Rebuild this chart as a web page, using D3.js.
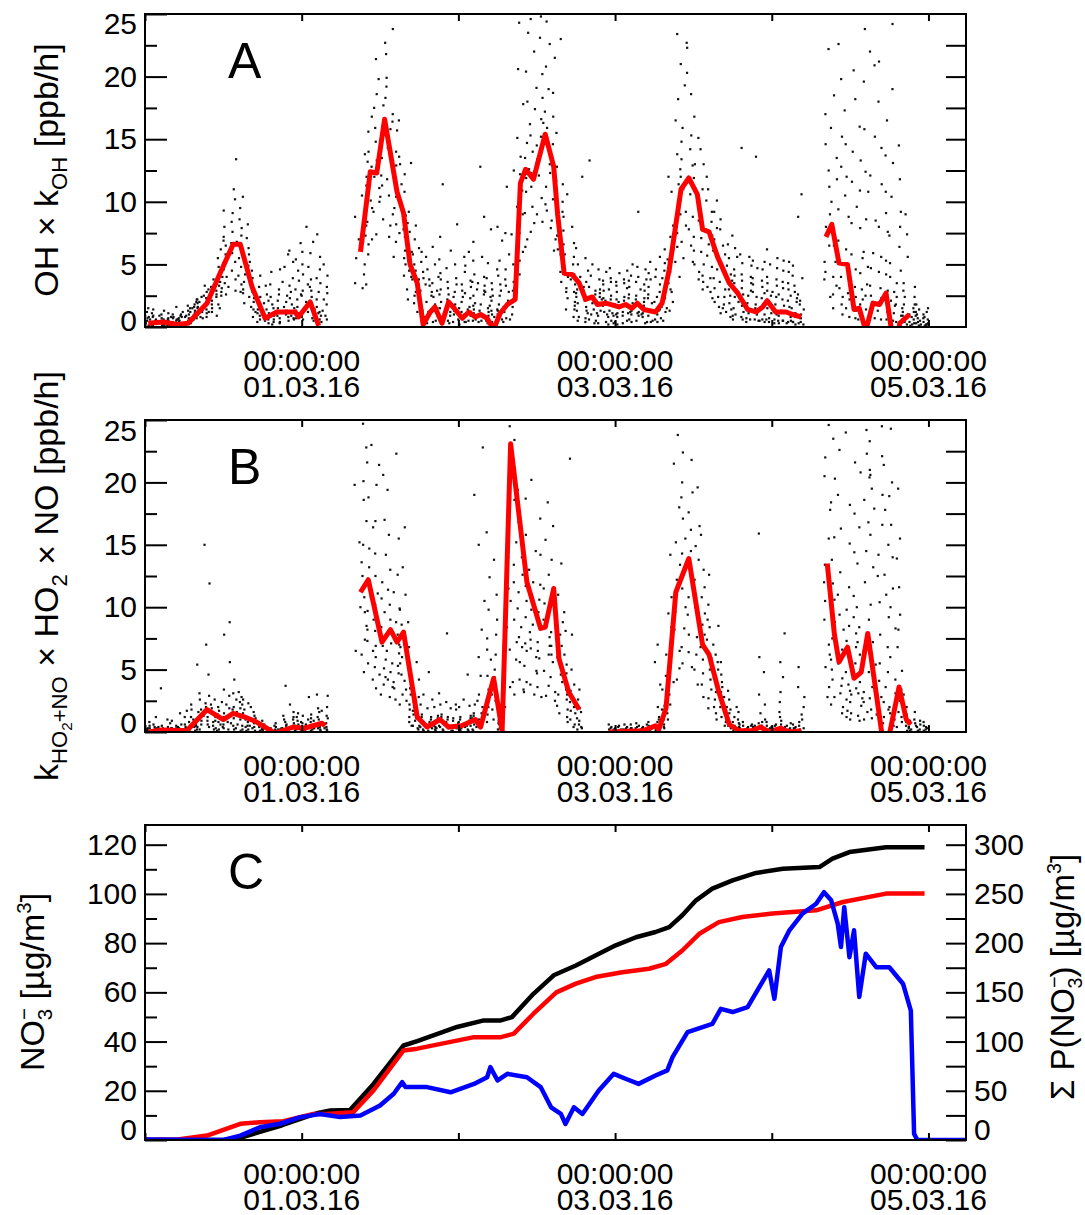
<!DOCTYPE html>
<html lang="en">

<head>
    <meta charset="UTF-8">
    <title>OH x kOH, kHO2+NO x HO2 x NO and nitrate</title>
    <script src="https://d3js.org/d3.v7.min.js"></script>
    <style>
        body,
        html {
            margin: 0;
            padding: 0;
            background: #fff;
        }

        svg {
            display: block;
        }

        text {
            font-family: "Liberation Sans", Arial, Helvetica, sans-serif;
            fill: #000;
        }
    </style>
</head>

<body>
    <script>
        // all times are hours since 29.02.16 00:00 (UTC)
        const t0 = Date.UTC(2016, 1, 29);
        const toDate = h => new Date(t0 + h * 3600e3);

        const dayTicks = [0, 24, 48, 72, 96, 120];
        const labelHours = [24, 72, 120];
        const rateTicks = [0, 5, 10, 15, 20, 25];
        const rateMinor = [2.5, 7.5, 12.5, 17.5, 22.5];
        const rateRight = [2.5, 5, 7.5, 10, 12.5, 15, 17.5, 20, 22.5];
        const no3Ticks = [0, 20, 40, 60, 80, 100, 120];
        const no3Minor = [10, 30, 50, 70, 90, 110];
        const sumTicks = [0, 25, 50, 75, 100, 125, 150, 175, 200, 225, 250, 275, 300];
        const sumLabels = [0, 50, 100, 150, 200, 250, 300];

        // panel A: hourly OH x kOH line (ppb/h), null = gap
        const ohHours = [0.5, 2.8, 4.9, 6.6, 9.5, 11.5, 13.5, 14.6, 16.4, 18.4, 20.2, 23, 23.5, 25.3, 26.6, 28,
            33, 34.5, 35.5, 36.7, 38.6, 39.6, 40.6, 41.7, 42.6, 43.7, 44.4, 45.5, 46.5, 47.5, 48.6, 49.6, 50.6, 51.4,
            52.4, 53.4, 54.4, 55.5, 56.7, 57.5, 58.3, 59.5, 61.3, 62.6, 63.2, 64.2, 65.4, 66.5, 67.5, 68.5, 69.3,
            70.6, 72.6, 73.6, 74.6, 75.4, 76.4, 78.2, 79.2, 80.3, 82.1, 83.3, 84.6, 85.4, 86.4, 87.7, 89.5, 90.8,
            92.3, 93.6, 94.6, 95.3, 96.6, 98.2, 99.2, 100.5, 102,
            104.3, 105.2, 106.3, 107.6, 108.6, 109.4, 110.4, 111.5, 112.5, 113.5, 114.5, 115.3, 115.6, 117.1];
        const ohRate = [0.3, 0.4, 0.2, 0.3, 1.9, 4.3, 6.6, 6.6, 3.2, 0.7, 1.2, 1.2, 0.8, 2.0, 0.1, null,
            6.0, 12.4, 12.3, 16.6, 10.8, 9.1, 5.0, 3.5, 0.2, 1.2, 1.6, 0.3, 2.0, 1.4, 0.7, 1.2, 0.8, 1.0,
            0.7, -0.2, 1.1, 1.8, 2.2, 11.5, 12.6, 11.8, 15.4, 12.8, 9.0, 4.3, 4.2, 3.5, 2.2, 2.4, 1.8,
            1.9, 1.6, 1.8, 1.5, 1.9, 1.4, 1.2, 1.9, 4.6, 11.0, 11.9, 10.6, 7.8, 7.6, 5.6, 3.5, 2.7,
            1.4, 1.2, 1.6, 2.1, 1.2, 1.2, 1.0, 0.8, null,
            7.2, 8.2, 5.1, 5.0, 1.4, 1.5, -0.3, 1.9, 1.8, 2.7, -0.8, -0.8, 0.3, 1.0];

        // panel A: single measurements, one string per hour (ppb/h)
        const ohPoints = [
            "0.3 0.8 0.1 1.2 0.5 0.2 0.9 0.4 1.5 0.6 0.1 0.7",
            "0.5 0.2 1.1 0.3 0.8 0.1 0.6 1.4 0.4 0.2 0.9 0.3",
            "0.2 0.6 0.1 0.9 0.3 1.3 0.5 0.1 0.7 0.4 0.2 1.0",
            "0.4 0.1 0.8 0.2 0.6 0.3 1.1 0.1 0.5 0.2 0.7 0.3",
            "0.3 0.7 0.1 0.5 1.0 0.2 0.4 0.8 0.1 0.6 0.3 1.6",
            "0.6 0.2 0.9 0.4 1.2 0.1 0.7 0.3 1.0 0.5 0.2 0.8",
            "0.8 1.3 0.4 1.0 0.6 1.7 0.3 1.2 0.7 0.5 1.5 0.9",
            "1.0 1.6 0.6 1.3 2.0 0.9 1.5 0.7 1.8 1.1 0.5 2.2",
            "1.2 2.0 0.8 1.6 2.4 1.0 1.9 1.4 0.7 2.2 1.5 1.1",
            "1.6 2.5 1.1 2.0 3.0 1.4 2.3 0.8 2.8 1.8 1.2 3.3",
            "2.1 3.0 1.5 2.6 3.5 1.8 2.9 1.2 3.8 2.4 0.9 3.2",
            "2.8 4.5 1.8 3.6 5.5 2.5 4.0 6.2 3.1 1.5 4.8 3.3",
            "4.0 6.5 3.2 8.0 5.1 2.6 7.2 4.6 9.3 3.5 5.8 6.9",
            "5.2 8.4 3.8 6.7 10.2 4.5 7.6 11.0 5.9 2.9 9.1 13.4",
            "4.8 7.9 3.4 6.2 9.5 5.5 8.6 2.8 6.8 10.4 4.1 7.3",
            "3.6 5.8 2.4 4.9 7.1 3.0 6.3 1.9 4.2 8.2 2.7 5.1",
            "2.0 3.6 1.2 2.8 4.5 1.6 3.1 0.8 2.3 5.2 1.4 3.9",
            "1.1 2.4 0.6 1.8 3.2 0.9 2.0 4.1 1.4 0.4",
            "0.8 1.9 0.3 1.4 2.6 0.6 3.3 1.1 0.5 2.1",
            "0.6 1.5 0.2 2.4 1.0 3.4 0.4 1.8 0.9 4.4",
            "0.9 2.1 0.4 1.5 3.0 0.7 4.6 1.2 2.6 0.3",
            "1.0 2.5 0.5 3.6 1.6 0.8 4.8 2.0 1.3 5.8",
            "1.2 2.8 0.6 3.9 1.8 5.2 0.9 2.3 1.5 3.3 6.1 0.7",
            "1.3 3.0 0.7 2.2 4.5 1.6 6.7 0.9 2.6 3.7 1.1 5.4",
            "1.5 2.9 0.8 4.2 2.0 6.0 1.2 8.0 2.5 3.4 0.6 5.0",
            "1.4 3.2 0.7 2.4 4.8 1.8 5.9 1.0 2.9 3.8 0.5 6.8",
            "1.2 3.5 0.6 2.2 4.6 1.6 7.4 0.9 2.8 3.9 1.1 5.6",
            "0.9 2.7 0.4 1.8 4.1 1.3 3.2 0.6 2.2 5.0",
            "", "", "", "",
            "5.5 8.8 3.5 7.0",
            "6.2 9.8 3.4 8.1 12.0 5.0 7.3 10.5 4.2 13.8 6.8 3.1 9.0 11.3",
            "9.5 13.2 7.0 15.6 11.4 5.8 12.8 8.4 16.8 10.1 6.6 14.0",
            "12.0 17.5 9.2 14.8 21.4 11.1 15.9 7.4 18.6 13.3 10.0 19.8",
            "13.5 19.2 10.4 16.0 22.7 12.1 17.7 8.6 21.8 14.9 11.3 18.3",
            "11.8 17.0 9.0 14.3 23.8 10.5 15.8 7.2 19.9 12.7 8.1 16.4",
            "9.5 14.0 6.8 11.7 15.7 8.2 12.9 5.6 10.4 13.6 7.5 16.5",
            "7.2 10.8 5.0 8.9 12.2 6.1 9.6 4.1 11.4 7.8 5.5 13.0",
            "4.5 7.6 3.0 6.0 13.1 3.8 8.3 2.2 5.3 9.2 4.0 6.6",
            "3.2 5.8 1.9 4.5 7.0 2.5 6.3 1.2 3.8 8.1 2.8 5.0",
            "1.8 3.9 0.8 2.9 5.2 1.3 4.4 0.5 2.3 6.0 1.5 3.4",
            "1.4 3.3 0.6 2.5 4.6 1.0 3.8 0.3 2.0 5.6 1.2 2.8",
            "1.3 3.5 0.5 2.4 5.0 0.9 4.0 1.8 6.4 2.9 0.4 1.5",
            "1.5 3.8 0.6 2.6 5.4 1.1 4.3 2.0 7.2 3.0 0.8 11.4",
            "1.2 3.1 0.5 2.2 4.7 0.9 3.6 1.7 6.1 2.6 0.3 1.4",
            "1.3 3.4 0.6 2.4 5.0 1.0 3.9 1.8 8.2 2.8 0.4 1.6",
            "1.0 2.9 0.4 2.0 4.4 0.8 3.4 1.5 5.6 2.4 0.2 1.2",
            "1.2 3.2 0.5 2.3 4.9 0.9 3.7 1.6 6.0 2.7 0.4 1.4",
            "1.4 3.6 0.6 2.5 5.3 1.1 4.2 1.9 6.8 3.0 0.5 1.7",
            "1.3 3.5 0.5 2.6 5.6 1.0 4.0 1.8 8.8 12.8 0.4 2.9",
            "1.2 3.3 0.5 2.4 5.1 0.9 3.9 1.7 7.8 2.8 0.3 1.5",
            "1.0 3.0 0.4 2.1 4.6 0.8 3.5 1.4 8.0 2.5 0.2 1.3",
            "1.3 3.4 0.6 2.5 5.3 1.0 4.1 1.8 6.9 2.9 0.4 1.6",
            "1.5 3.8 0.7 2.8 11.2 1.2 4.6 2.1 7.5 3.3 0.6 5.8",
            "2.2 5.0 1.0 3.6 7.4 1.6 6.2 2.9 12.5 4.3 9.6 3.1",
            "7.5 13.6 4.2 10.9 17.8 6.0 12.2 20.6 9.0 15.1 5.3 24.3",
            "10.8 16.2 7.0 13.5 20.4 9.1 14.7 23.5 11.9 18.0 6.4 12.6",
            "11.2 17.4 7.6 14.0 22.0 9.6 15.3 24.6 12.3 19.1 8.3 13.1",
            "12.1 18.3 8.4 15.2 23.1 10.3 16.6 24.8 13.4 20.2 9.0 14.5",
            "13.0 19.0 9.3 15.9 22.6 11.2 17.2 24.4 14.3 20.8 9.8 16.3",
            "10.2 16.8 7.0 13.4 21.5 8.5 14.6 6.1 11.7 18.7 7.9 12.3",
            "7.3 12.8 4.4 10.0 23.0 5.8 11.4 3.6 8.7 15.5 6.2 9.2",
            "4.0 7.7 2.3 5.8 10.6 3.1 6.6 1.4 4.9 8.8 2.8 5.2",
            "2.8 5.6 1.4 4.2 8.0 2.0 5.0 0.8 3.4 6.7 1.7 3.8",
            "1.9 4.0 0.8 3.0 6.3 1.3 3.6 12.0 2.4 5.0 0.5 2.7",
            "1.6 3.6 0.7 2.6 5.5 1.1 3.2 0.4 2.1 4.5 1.3 2.9",
            "1.4 3.2 0.6 2.4 5.0 1.0 2.9 13.3 1.9 4.1 0.3 2.6",
            "1.3 3.0 0.5 2.2 4.6 0.9 2.7 0.3 1.8 3.8 1.1 2.4",
            "1.2 2.9 0.4 2.1 4.4 0.8 3.4 0.2 1.7 3.7 1.0 2.3",
            "1.3 3.0 0.5 2.2 4.7 0.9 3.6 0.3 1.8 3.9 1.1 2.5",
            "1.1 2.8 0.4 2.0 4.3 0.8 3.3 0.2 1.6 3.6 1.0 2.2",
            "1.2 3.1 0.5 2.1 4.5 0.9 3.5 0.3 1.7 3.8 1.1 2.4",
            "1.3 3.2 0.6 2.3 5.0 1.0 3.7 0.4 1.9 4.1 1.2 2.6",
            "1.2 3.0 0.5 2.2 4.8 0.9 3.6 9.2 1.8 4.0 1.1 2.5",
            "1.1 2.9 0.4 2.0 4.6 0.8 3.4 0.3 1.7 3.8 1.0 2.3",
            "1.3 3.2 0.5 2.3 5.2 0.9 3.8 0.4 1.9 4.3 1.2 2.6",
            "1.4 3.4 0.6 2.4 5.6 1.0 4.0 0.4 2.0 4.6 1.3 2.8",
            "1.6 3.9 0.7 2.8 6.2 1.2 4.5 0.5 2.3 5.1 1.5 3.2",
            "3.5 7.2 2.0 5.4 10.8 2.8 8.1 1.3 4.4 12.0 3.0 6.2",
            "7.5 12.6 5.2 10.1 16.5 6.4 13.8 4.0 9.0 18.2 23.4 11.4",
            "9.2 14.8 6.8 12.0 19.3 8.1 15.9 5.5 11.0 21.0 22.7 13.4",
            "8.8 14.2 6.5 11.5 18.6 7.8 15.3 5.2 10.6 20.3 22.3 12.9",
            "7.2 11.9 5.0 9.6 15.1 6.1 13.0 3.8 8.5 16.8 4.4 10.4",
            "6.0 10.1 4.1 8.2 13.0 5.0 11.0 3.0 7.1 14.2 3.6 9.0",
            "4.8 8.4 3.2 6.6 11.0 3.9 9.2 2.3 5.7 12.0 2.8 7.3",
            "3.9 7.0 2.4 5.5 9.2 3.1 7.9 1.6 4.6 10.1 2.0 6.1",
            "3.0 5.8 1.8 4.4 7.8 2.4 6.5 1.1 3.6 8.6 1.5 5.0",
            "2.5 4.9 1.4 3.7 6.6 1.9 5.5 0.8 3.0 7.3 1.2 4.2",
            "2.0 4.1 1.0 3.0 5.6 1.5 4.6 0.6 2.4 6.3 0.9 3.5",
            "1.7 3.7 0.8 2.6 5.1 1.2 4.2 14.3 2.0 5.8 0.6 3.1",
            "1.6 3.5 0.7 2.5 4.9 1.1 4.0 0.4 1.9 5.6 0.6 2.9",
            "1.5 3.4 0.6 2.4 4.7 1.0 3.9 13.6 1.8 5.3 0.5 2.8",
            "1.4 3.2 0.6 2.3 4.6 1.0 3.7 0.4 1.8 5.2 0.5 2.7",
            "1.5 3.5 0.7 2.5 5.0 1.1 4.0 0.4 1.9 6.2 0.6 2.9",
            "1.4 3.3 0.6 2.4 4.7 1.0 3.8 0.3 1.8 5.5 0.5 2.8",
            "1.3 3.1 0.5 2.2 4.5 0.9 3.6 0.3 1.7 5.3 0.5 2.6",
            "1.2 3.0 0.5 2.1 4.4 0.8 3.5 0.3 1.6 5.2 0.4 2.5",
            "1.1 2.8 0.4 2.0 4.1 0.8 3.3 0.2 1.5 4.9 0.4 2.3",
            "1.0 2.6 0.3 1.8 3.9 0.7 8.8 0.2 1.4 10.6 0.4 2.1",
            "", "", "",
            "6.5 11.2 3.8 9.0 14.6 5.2 12.5 2.4 8.0 17.0 4.4 22.2",
            "5.2 10.0 2.6 7.8 13.5 4.0 15.9 1.5 6.5 18.5 3.3 11.8",
            "4.0 9.4 1.8 6.9 12.8 3.1 15.2 1.0 5.5 19.8 2.4 22.6",
            "3.6 8.8 1.5 6.2 12.0 2.7 14.6 0.8 5.0 17.3 2.2 10.5",
            "3.2 8.3 1.3 5.8 11.6 2.4 14.0 0.7 4.6 18.2 2.0 20.5",
            "3.0 7.9 1.2 5.5 10.9 2.2 13.3 0.6 4.3 16.0 1.8 9.6",
            "3.4 8.6 1.4 6.0 12.4 2.5 15.8 0.7 4.8 19.6 23.8 10.8",
            "3.3 8.5 1.4 5.9 12.1 2.5 15.2 0.7 4.7 20.9 2.0 22.0",
            "3.1 8.0 1.3 5.6 11.4 2.3 14.3 0.6 4.4 18.0 1.9 21.2",
            "2.9 7.6 1.2 5.3 10.8 2.2 13.7 0.6 4.2 16.5 1.8 9.1",
            "2.8 7.3 1.1 5.1 10.4 2.1 13.1 0.5 4.0 24.2 1.7 19.0",
            "2.4 6.4 0.9 4.5 9.2 1.8 11.8 0.4 3.5 14.5 1.5 8.0",
            "1.2 3.5 0.4 2.4 5.6 0.9 7.4 0.2 1.8 9.0 0.6 2.9",
            "0.6 1.5 0.2 1.0 2.4 0.4 1.8 0.1 0.8 3.2 0.3 1.2",
            "0.4 1.0 0.1 0.7 1.4 0.3 1.2 0.1 0.5 1.8 0.2 0.9",
            "0.3 0.8 0.1 0.6 1.2 0.2 1.0 0.1 0.4 1.5 0.2 0.7"
        ];

        // panel B: hourly kHO2+NO x HO2 x NO line (ppb/h)
        const ho2Hours = [0.5, 2.6, 6.4, 9.5, 12, 13.5, 15.3, 17.1, 19.9, 22.7, 24.4, 27.1, 27.6, 29,
            33, 34.2, 36.3, 37.6, 38.6, 39.6, 41.7, 43.2, 45.2, 46.5, 48.5, 50.6, 51.4, 53.4, 54.7, 56.0, 58.5,
            60.6, 61.3, 62.6, 63.4, 64.9, 66.5, 68,
            71.1, 76.2, 78.2, 78.7, 79.8, 81.3, 83.3, 85.4, 86.4, 87.9, 89.5, 91, 92.9, 94.3, 95.6, 97.4, 98.6,
            100.5, 102,
            104.5, 105.6, 106.3, 107.6, 108.6, 109.7, 110.7, 113.1, 113.7, 115.5, 116.6, 117.3];
        const ho2Rate = [0, 0.16, 0.1, 1.8, 1.0, 1.5, 1.2, 0.8, -0.1, 0.4, 0.3, 0.7, 0.5, null,
            11.2, 12.2, 7.2, 8.2, 7.2, 8.0, 1.2, 0.4, 1.0, 0.4, 0.5, 1.0, 0.4, 4.3, 0.1, 23.1, 12.0,
            8.3, 8.4, 11.5, 5.9, 3.2, 1.8, null,
            0, 0.1, 0.5, 0.2, 1.9, 11.2, 13.9, 7.0, 6.2, 3.2, 0.6, 0.1, 0.1, 0.4, 0, 0.3, 0,
            0.1, null,
            13.5, 7.8, 5.6, 6.8, 4.3, 4.8, 7.9, -1, -1, 3.6, 1.0, 0.6];

        // panel B: single measurements, one string per hour (ppb/h)
        const ho2Points = [
            "0.1 0.3 0.0 0.5 0.2 0.1 0.8 0.3 0.0 0.2",
            "0.2 0.1 0.4 0.0 1.2 0.2 0.1 0.6 0.3 0.0",
            "0.1 0.3 0.0 0.2 3.5 0.1 0.5 0.2 0.0 0.4",
            "0.2 0.0 0.4 0.1 0.7 0.3 0.0 0.2 1.0 0.1",
            "0.1 0.3 0.0 0.5 0.2 0.1 0.9 0.0 0.3 0.2",
            "0.2 0.0 0.3 0.1 0.6 0.2 0.4 0.0 1.5 0.1",
            "0.3 0.8 0.1 0.5 1.2 0.2 0.6 0.0 1.7 0.4",
            "0.5 1.2 0.2 0.8 1.8 0.4 1.0 0.1 2.2 0.6",
            "0.9 1.8 0.4 1.3 2.6 0.6 5.4 0.2 1.6 3.1",
            "1.2 2.3 0.6 1.7 15.0 0.9 11.9 7.0 2.9 4.6 0.4 2.0",
            "0.8 1.6 0.3 1.2 2.2 0.5 1.9 0.2 0.9 2.6",
            "0.6 1.4 0.2 1.0 2.0 0.4 1.7 0.1 0.8 2.4",
            "0.8 2.2 0.3 1.5 2.9 0.6 8.8 0.2 1.2 7.8 1.9 3.4",
            "0.7 2.0 0.3 1.4 3.1 0.5 5.6 0.2 1.1 4.2 1.8 2.6",
            "0.6 1.9 0.2 1.3 2.8 0.5 2.4 0.1 1.0 3.2 1.6 2.2",
            "0.5 1.5 0.2 1.0 2.3 0.4 1.8 0.1 0.8 2.6",
            "0.4 1.1 0.1 0.7 1.6 0.3 1.3 0.0 0.5 2.0",
            "0.2 0.6 0.0 0.4 0.9 0.1 0.3 0.0",
            "0.1 0.4 0.0 0.3 0.6 0.1 0.2 0.0",
            "0.1 0.3 0.0 0.2 0.5 0.1 0.2 0.0",
            "0.2 0.4 0.0 0.3 0.7 0.1 0.2 0.0",
            "0.3 0.8 0.1 0.5 1.3 0.2 1.0 0.0 3.7 0.6",
            "0.4 1.0 0.1 0.7 1.6 0.3 2.2 0.0 1.2 0.5",
            "0.3 0.8 0.1 0.5 1.2 0.2 0.9 0.0 0.6 1.5",
            "0.2 0.6 0.0 0.4 1.0 0.1 0.7 0.0 0.5 1.3",
            "0.3 0.8 0.1 0.5 1.4 0.2 0.9 0.0 2.8 1.1",
            "0.4 1.0 0.1 0.7 1.6 0.3 1.2 0.0 3.0 0.6 1.9 0.2",
            "0.4 1.1 0.1 0.7 1.7 0.3 1.3 0.0 2.9 0.6 2.0 0.2",
            "", "", "", "",
            "10.0 15.2 6.5 19.8",
            "12.5 18.6 7.4 15.0 22.8 9.6 4.8 16.9 24.7 10.8 6.2 13.6 8.5 20.1",
            "10.8 16.4 6.5 13.2 21.6 8.2 4.2 14.7 23.0 9.7 5.5 11.9 7.3 18.8",
            "9.0 14.3 5.2 11.1 19.8 6.9 3.5 12.5 21.4 8.1 4.6 10.2 6.0 16.9",
            "7.5 12.0 4.4 9.6 17.0 5.8 3.0 10.7 20.6 6.9 3.8 8.4 5.1 14.2",
            "7.1 11.4 4.2 9.0 15.8 5.5 2.8 10.2 19.4 6.5 3.6 8.0 4.8 13.0",
            "7.0 11.2 4.0 8.8 15.5 5.3 2.6 9.9 22.3 6.3 3.5 7.8 4.7 12.6",
            "6.0 9.8 3.4 7.6 13.2 4.6 2.2 8.6 16.4 5.5 3.0 6.8 4.1 11.0",
            "2.5 4.6 1.2 3.5 6.8 1.8 0.8 4.0 8.8 2.2 0.5 3.0",
            "1.4 2.8 0.5 2.0 4.2 0.9 0.3 2.4 5.6 1.1 0.2 1.7",
            "0.6 1.4 0.2 1.0 2.2 0.4 0.1 1.2 3.0 0.5",
            "0.5 1.2 0.1 0.8 1.9 0.3 0.0 1.0 4.8 0.4",
            "0.5 1.3 0.2 0.9 2.0 0.3 0.1 1.1 2.6 0.4",
            "0.6 1.4 0.2 1.0 2.2 0.4 0.1 1.2 3.1 0.5",
            "0.5 1.2 0.1 0.8 1.9 0.3 7.9 1.0 2.4 0.4",
            "0.4 1.1 0.1 0.7 1.8 0.3 0.0 0.9 2.2 0.4",
            "0.5 1.2 0.2 0.8 2.0 0.3 0.1 1.0 2.6 0.4",
            "0.5 1.3 0.2 0.9 2.1 0.4 0.1 1.1 4.6 0.5",
            "0.6 1.5 0.2 1.1 2.5 0.4 0.1 1.3 19.0 0.6 2.2",
            "1.0 3.0 0.4 2.0 6.0 0.7 10.5 4.5 22.8 1.5 15.0 8.2",
            "2.0 4.5 0.8 3.4 7.5 1.4 12.4 5.8 16.0 2.6 9.8 6.6",
            "2.5 5.0 1.0 3.8 7.8 1.8 11.0 6.2 13.8 3.0 9.0 4.4",
            "0.3 0.9 0.1 0.6 1.5 0.2 0.0 0.7",
            "5.0 11.5 2.0 8.4 17.8 3.6 24.5 14.0 6.6 20.5",
            "7.2 13.4 4.0 10.5 18.6 5.8 23.4 15.2 9.0 21.0 3.0 12.0",
            "6.8 12.6 4.2 9.9 16.8 5.6 19.4 14.0 8.4 7.6 11.2 3.4",
            "6.5 11.7 4.0 9.2 15.8 5.3 18.7 13.0 8.0 7.1 10.5 3.2",
            "6.0 10.8 3.8 8.6 14.5 4.9 20.2 12.0 7.4 6.7 9.8 3.0",
            "5.9 10.6 3.6 8.4 14.2 4.7 17.1 11.8 7.2 6.5 9.6 2.8",
            "6.2 11.5 3.7 9.0 15.4 4.9 18.4 12.6 7.6 6.9 10.3 2.9",
            "5.6 10.2 3.2 8.0 13.8 4.4 16.5 11.2 6.9 6.2 9.2 2.5",
            "4.0 7.8 2.1 6.0 11.0 3.0 13.5 8.8 5.1 4.6 6.9 1.5",
            "2.6 5.4 1.2 4.0 8.1 1.8 9.6 6.2 3.4 3.0 4.7 0.8",
            "1.5 3.3 0.6 2.4 5.0 1.0 21.9 3.8 2.0 1.7 7.8 0.4",
            "0.6 1.6 0.2 1.1 2.6 0.4 3.4 1.9 0.9 0.3",
            "", "", "", "",
            "0.2 0.4 0.0 0.3 0.6 0.1 0.2 0.0",
            "0.1 0.3 0.0 0.2 0.5 0.1 0.4 0.0",
            "0.2 0.4 0.0 0.3 0.6 0.1 0.2 0.0",
            "0.1 0.3 0.0 0.2 0.6 0.1 0.3 0.0",
            "0.2 0.5 0.0 0.3 0.7 0.1 0.4 0.0",
            "0.2 0.4 0.0 0.3 0.6 0.1 0.3 0.0",
            "0.2 0.5 0.1 0.3 0.8 0.1 0.4 0.0",
            "0.4 1.2 0.1 0.8 2.0 0.3 5.6 1.0 7.0 0.5 3.8 0.2",
            "0.8 2.1 0.3 1.5 3.4 0.6 6.2 1.8 4.5 1.0 2.6 0.4",
            "3.0 7.0 1.5 5.2 10.8 2.2 14.2 8.4 4.0 6.1 1.0 9.5",
            "8.2 13.4 5.1 11.0 18.0 6.5 21.5 15.2 9.6 12.2 4.2 23.8",
            "10.0 15.5 6.8 13.0 20.0 8.3 22.4 17.1 11.5 14.3 5.5 18.8",
            "9.4 14.5 6.4 12.1 19.2 7.8 21.8 16.2 10.8 13.4 5.2 17.6",
            "7.6 12.2 5.0 10.0 16.5 6.2 19.6 13.8 8.8 11.1 3.8 14.9",
            "5.8 9.5 3.8 7.8 13.0 4.7 15.8 10.8 6.8 8.6 2.8 11.6",
            "4.2 7.4 2.7 5.9 10.2 3.4 12.6 8.4 5.0 6.6 1.9 9.0",
            "2.6 5.0 1.5 3.8 7.0 2.0 8.5 5.6 3.2 4.3 1.0 6.2",
            "1.6 3.2 0.8 2.4 4.6 1.2 5.6 3.6 2.0 2.8 0.5 4.0",
            "0.8 1.8 0.3 1.3 2.6 0.5 3.3 2.0 1.0 1.5",
            "0.4 1.0 0.1 0.7 1.6 0.3 2.0 1.2 0.5 0.8",
            "0.2 0.5 0.0 0.3 0.8 0.1 0.6 0.0",
            "0.1 0.4 0.0 0.3 0.6 0.1 0.5 0.0",
            "0.2 0.5 0.0 0.3 0.7 0.1 0.4 0.0",
            "0.3 1.5 0.1 3.0 0.8 15.9 2.2 0.0 4.8 0.5 1.0 6.0",
            "0.2 0.5 0.0 0.3 0.8 0.1 0.4 0.0",
            "0.1 0.4 0.0 0.3 0.6 0.1 0.5 0.0",
            "0.3 1.6 0.1 3.2 0.9 7.9 2.4 0.0 5.6 0.6 1.2 4.4",
            "0.2 0.5 0.0 0.3 0.7 0.1 0.4 0.0",
            "0.1 0.4 0.0 0.3 0.6 0.1 0.3 0.0",
            "0.3 1.4 0.1 2.8 0.8 5.2 2.0 0.0 3.6 0.5 1.0 0.2",
            "", "", "",
            "9.0 15.5 5.2 12.0 20.5 7.0 3.6 17.8 24.6 10.5 6.2 13.4 2.8 22.0",
            "7.5 13.8 4.2 10.6 18.4 5.8 2.8 15.6 23.5 8.8 5.0 11.9 2.2 20.3",
            "5.5 11.0 3.1 8.2 16.3 4.3 2.0 12.8 22.6 6.6 3.7 9.4 1.5 19.0",
            "4.8 9.8 2.6 7.3 15.1 3.8 1.7 11.6 24.0 5.9 3.3 8.5 1.2 18.2",
            "4.5 9.2 2.4 6.8 14.4 3.5 1.5 10.9 21.6 5.5 3.0 7.9 1.0 17.5",
            "4.0 8.4 2.1 6.2 13.5 3.1 1.3 10.0 20.8 5.0 2.7 7.2 0.9 16.4",
            "6.5 16.8 3.2 12.0 20.4 4.8 1.6 18.6 24.2 9.0 2.4 14.5 1.0 22.3",
            "7.2 17.9 3.6 13.2 21.0 5.4 1.8 19.5 23.3 10.2 2.7 15.8 1.1 20.6",
            "5.5 14.2 2.8 10.4 19.0 4.1 1.4 16.6 22.1 7.8 2.1 12.5 0.8 24.5",
            "4.8 12.6 2.4 9.2 17.8 3.6 1.2 15.0 21.4 6.8 1.8 11.0 0.7 18.9",
            "4.2 11.5 2.0 8.3 16.6 3.1 1.0 14.0 24.3 6.0 1.5 10.0 0.5 20.0",
            "3.4 9.4 1.6 6.8 13.9 2.5 0.8 11.6 19.5 4.9 1.2 8.2 0.4 15.5",
            "0.8 2.0 0.3 1.4 3.0 0.5 0.1 1.7",
            "0.4 1.0 0.1 0.7 1.6 0.2 0.0 0.9",
            "0.2 0.6 0.0 0.4 0.9 0.1 0.0 0.5",
            "0.2 0.5 0.0 0.3 0.8 0.1 0.0 0.4"
        ];

        // panel C: cumulative production (right axis, ug/m3)
        const sumBlackHours = [0, 12, 14, 18, 21, 23.8, 26.5, 28.4, 31.4, 35, 39.6, 41.7, 47.8, 51.9, 54.5, 56.2,
            59.5, 62.6, 66, 69, 72.1, 75.2, 78.2, 80.3, 82.3, 84.4, 86.9, 90, 93.6, 97.7, 103.3, 105.3, 107.9,
            113.5, 119.4];
        const sumBlack = [0, 0, 1, 9, 15, 21.5, 27.5, 30, 30.5, 57, 96, 100.5, 114.8, 121.5, 121.5, 124.8,
            148.5, 167.3, 177.3, 187.5, 197.8, 206, 211.3, 216.3, 228.3, 243.5, 255.3, 263.8, 271.3, 275.5, 277.3,
            285.8, 292.5, 297.5, 297.5];
        const sumRedHours = [0, 5, 9.5, 14.6, 17.6, 21.2, 25.8, 27.8, 31.9, 35, 39.6, 41.7, 50.4, 54.5, 56.5, 59.5,
            63, 66, 69, 73.1, 77.2, 79.8, 82.3, 84.9, 87.9, 91.5, 96.1, 102.8, 106.9, 113.5, 119.4];
        const sumRed = [0, 0.5, 4.5, 16.5, 18, 19, 26.5, 26.5, 28.3, 50.3, 91, 92.8, 104.5, 104.5, 108, 128.3,
            150, 158.8, 165.5, 170.5, 174, 179, 192.5, 209.5, 221.3, 226.5, 230, 233.3, 241.8, 250.3, 250.3];

        // panel C: measured nitrate (left axis, ug/m3)
        const no3Hours = [0, 12, 14.6, 17.6, 20.7, 23.8, 26.8, 29.9, 33, 36, 38.1, 39.4, 39.9, 43.2, 46.8, 50.4,
            52.4, 52.9, 54, 55.5, 58.5, 60.6, 62.2, 63.7, 64.4, 65.7, 67, 69.5, 71.8, 73.6, 75.6, 78.2, 80, 80.8,
            83.1, 85.4, 86.9, 88.2, 90, 92.3, 93.8, 95.6, 96.4, 97.4, 98.7, 100.7, 102.8, 104, 105.1, 106.1, 106.6,
            107.1, 107.9, 108.6, 109.4, 110.4, 112, 114, 116.1, 117.3, 117.8, 118.3, 125.7];
        const no3 = [0.2, 0, 1.8, 5.2, 6.6, 9.3, 10.6, 9.3, 10, 14, 18.8, 23.5, 21.5, 21.5, 19.4, 22.8,
            25.5, 29.6, 24.2, 26.9, 25.5, 21.5, 13.3, 10.6, 6.5, 13.3, 10.6, 20.1, 26.9, 24.9, 22.8, 26.2, 28.3, 33.7,
            43.8, 45.9, 47.2, 53.3, 52, 54, 60.8, 68.9, 57.4, 78.4, 85.2, 92, 96, 100.7, 97.4, 87.9, 78.4,
            94.6, 74.3, 85.2, 58.1, 75.7, 70.2, 70.2, 63.5, 52.6, 2.5, 0, 0];

        const width = 1085;
        const height = 1215;
        const left = 145;
        const right = 966;

        const svg = d3.select("body")
            .append("svg")
            .attr("width", width)
            .attr("height", height);

        const x = d3.scaleUtc()
            .domain([toDate(0), toDate(125.75)])
            .range([left, right]);

        const yA = d3.scaleLinear().domain([0, 25]).range([327, 14]);
        const yB = d3.scaleLinear().domain([0, 25]).range([732, 420]);
        const yC = d3.scaleLinear().domain([0, 128]).range([1140, 825]);
        const yC2 = d3.scaleLinear().domain([0, 320]).range([1140, 825]);

        const zip = (a, b) => a.map((d, i) => [d, b[i]]);

        function clipFor(id, y) {
            const [bottom, top] = y.range();
            svg.append("clipPath").attr("id", id)
                .append("rect")
                .attr("x", left).attr("y", top)
                .attr("width", right - left).attr("height", bottom - top);
            return `url(#${id})`;
        }

        // points of one hour are spread over that hour (fixed hash order, no randomness)
        function drawPoints(rows, y, clip) {
            const pts = [];
            rows.forEach((s, h) => {
                if (!s) return;
                const v = s.split(" ").map(Number);
                v.forEach((d, i) => {
                    const f = (i * 0.618034 + d * 3.7 + h * h * 0.7548777) % 1;
                    pts.push([h + f, d]);
                });
            });
            svg.append("g")
                .attr("clip-path", clip)
                .selectAll("rect")
                .data(pts)
                .join("rect")
                .attr("x", d => x(toDate(d[0])) - 1.1)
                .attr("y", d => y(d[1]) - 1.1)
                .attr("width", 2.2)
                .attr("height", 2.2)
                .attr("fill", "#111");
        }

        function drawLine(data, y, clip, color, w) {
            const line = d3.line()
                .defined(d => d[1] != null)
                .x(d => x(toDate(d[0])))
                .y(d => y(d[1]));
            svg.append("path")
                .datum(data)
                .attr("clip-path", clip)
                .attr("fill", "none")
                .attr("stroke", color)
                .attr("stroke-width", w)
                .attr("stroke-linejoin", "round")
                .attr("d", line);
        }

        function styleAxis(g) {
            g.select(".domain").remove();
            g.selectAll("line").attr("stroke", "#000").attr("stroke-width", 2);
            g.attr("font-size", 30)
                .attr("font-family", "'Liberation Sans', Arial, Helvetica, sans-serif");
            g.selectAll("text").attr("fill", "#000");
        }

        // frame, ticks and labels of one panel; end labels are pulled inside the frame
        function drawFrame(y, major, minor, yRight, rightTicks, rightLabels, zeroShift, topShift) {
            const [bottom, top] = y.range();
            const days = dayTicks.map(toDate);
            const yMax = y.domain()[1];

            svg.append("g").attr("transform", `translate(0,${bottom})`)
                .call(d3.axisBottom(x).tickValues(days).tickSize(-7).tickFormat(""))
                .call(styleAxis);
            svg.append("g").attr("transform", `translate(0,${top})`)
                .call(d3.axisTop(x).tickValues(days).tickSize(-7).tickFormat(""))
                .call(styleAxis);

            const gl = svg.append("g").attr("transform", `translate(${left},0)`)
                .call(d3.axisLeft(y).tickValues(major).tickSize(-22).tickPadding(8))
                .call(styleAxis);
            gl.selectAll("text").filter(d => d === 0).attr("y", -zeroShift);
            gl.selectAll("text").filter(d => d === yMax).attr("y", topShift);

            svg.append("g").attr("transform", `translate(${left},0)`)
                .call(d3.axisLeft(y).tickValues(minor).tickSize(-12).tickFormat(""))
                .call(styleAxis);

            const gr = svg.append("g").attr("transform", `translate(${right},0)`)
                .call(d3.axisRight(yRight).tickValues(rightTicks).tickSize(-20).tickPadding(8)
                    .tickFormat(d => rightLabels.includes(d) ? d : ""))
                .call(styleAxis);
            gr.selectAll("text").filter(d => d === 0).attr("y", -zeroShift);

            svg.append("rect")
                .attr("x", left).attr("y", top)
                .attr("width", right - left).attr("height", bottom - top)
                .attr("fill", "none")
                .attr("stroke", "#000")
                .attr("stroke-width", 2);

            // date labels, two lines each
            const g = svg.append("g").attr("text-anchor", "middle").attr("font-size", 30);
            g.selectAll(".time")
                .data(labelHours)
                .join("text")
                .attr("class", "time")
                .attr("x", d => x(toDate(d)))
                .attr("y", bottom + 44)
                .text(d => d3.utcFormat("%H:%M:%S")(toDate(d)));
            g.selectAll(".date")
                .data(labelHours)
                .join("text")
                .attr("class", "date")
                .attr("x", d => x(toDate(d)))
                .attr("y", bottom + 70)
                .text(d => d3.utcFormat("%d.%m.%y")(toDate(d)));
        }

        // text with sub/superscripts, s = vertical offset in px
        function richText(cx, cy, rot, size, parts) {
            const t = svg.append("text")
                .attr("transform", `translate(${cx},${cy}) rotate(${rot})`)
                .attr("text-anchor", "middle")
                .attr("font-size", size);
            let shift = 0;
            parts.forEach(p => {
                const s = p.s || 0;
                const ts = t.append("tspan").attr("dy", s - shift).text(p.t);
                if (p.f) ts.attr("font-size", size * p.f);
                if (p.dx) ts.attr("dx", p.dx);
                shift = s;
            });
        }

        function panelLetter(txt, y) {
            svg.append("text")
                .attr("x", 228)
                .attr("y", y.range()[1] + 64)
                .attr("font-size", 50)
                .text(txt);
        }

        // panel A
        const clipA = clipFor("clipA", yA);
        drawPoints(ohPoints, yA, clipA);
        drawLine(zip(ohHours, ohRate), yA, clipA, "#ff0000", 5);
        drawFrame(yA, rateTicks, rateMinor, yA, rateRight, [], 6, 10);
        panelLetter("A", yA);
        richText(58, 170, -90, 34, [
            { t: "OH × k" }, { t: "OH", s: 9, f: 0.65 }, { t: " [ppb/h]" }
        ]);

        // panel B
        const clipB = clipFor("clipB", yB);
        drawPoints(ho2Points, yB, clipB);
        drawLine(zip(ho2Hours, ho2Rate), yB, clipB, "#ff0000", 5);
        drawFrame(yB, rateTicks, rateMinor, yB, rateRight, [], 9, 11);
        panelLetter("B", yB);
        richText(58, 576, -90, 34, [
            { t: "k" }, { t: "HO", s: 9, f: 0.65 }, { t: "2", s: 14, f: 0.45 }, { t: "+NO", s: 9, f: 0.65 },
            { t: " × HO" }, { t: "2", s: 9, f: 0.65 }, { t: " × NO [ppb/h]" }
        ]);

        // panel C
        const clipC = clipFor("clipC", yC);
        drawLine(zip(sumBlackHours, sumBlack), yC2, clipC, "#000000", 4.5);
        drawLine(zip(sumRedHours, sumRed), yC2, clipC, "#ff0000", 4.5);
        drawLine(zip(no3Hours, no3), yC, clipC, "#0000ff", 4.5);
        drawFrame(yC, no3Ticks, no3Minor, yC2, sumTicks, sumLabels, 10, 0);
        panelLetter("C", yC);
        richText(44, 982, -90, 34, [
            { t: "NO" }, { t: "−", s: -13, f: 0.6 }, { t: "3", s: 8, f: 0.6, dx: -12 },
            { t: "  [µg/m" }, { t: "3", s: -13, f: 0.6 }, { t: "]" }
        ]);
        richText(1074, 977, -90, 33, [
            { t: "Σ P(NO" }, { t: "−", s: -13, f: 0.6 }, { t: "3", s: 8, f: 0.6, dx: -12 },
            { t: ")  [µg/m" }, { t: "3", s: -13, f: 0.6 }, { t: "]" }
        ]);
    </script>
</body>

</html>
